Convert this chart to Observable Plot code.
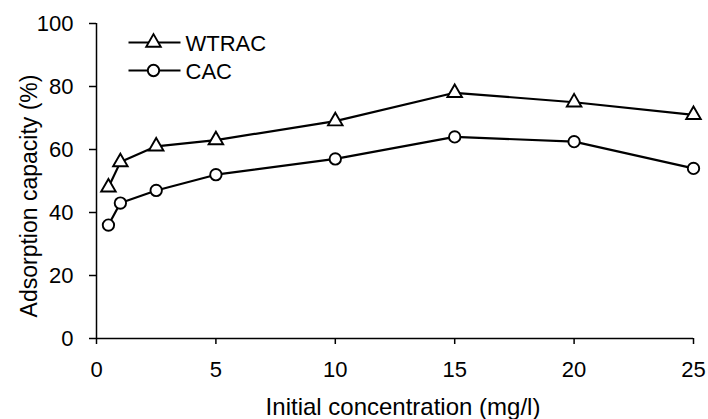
<!DOCTYPE html>
<html><head><meta charset="utf-8">
<script src="https://cdn.jsdelivr.net/npm/d3@7"></script>
<script src="https://cdn.jsdelivr.net/npm/@observablehq/plot@0.6"></script>
<style>
body{margin:0;background:#fff}
svg{font-family: Arial, "Liberation Sans", sans-serif; color:#000}
</style>
</head><body><div id="chart"></div>
<script>
const concentrations = [0.5, 1, 2.5, 5, 10, 15, 20, 25];
const wtrac = [48, 56, 61, 63, 69, 78, 75, 71];
const cac = [36, 43, 47, 52, 57, 64, 62.5, 54];
const seriesNames = ["WTRAC", "CAC"];
const seriesSymbols = ["triangle", "circle"];
const xTicks = [0, 5, 10, 15, 20, 25];
const yTicks = [0, 20, 40, 60, 80, 100];
const xLabel = "Initial concentration (mg/l)";
const yLabel = "Adsorption capacity (%)";

const seriesValues = [wtrac, cac];
const rows = seriesNames.map((s, i) => concentrations.map((c, j) => ({series: s, x: c, y: seriesValues[i][j]})));

const lineSymbol = {draw(ctx, size) { const w = Math.sqrt(size / Math.PI); ctx.moveTo(-w, 0); ctx.lineTo(w, 0); }};

const FS = 22;
const marks = [
  Plot.ruleY([0], {strokeWidth: 1.5}),
  Plot.ruleX([0], {strokeWidth: 1.5}),
  Plot.axisX({ticks: xTicks, tickSize: 6, tickPadding: 17, fontSize: FS, label: null, strokeWidth: 1.5}),
  Plot.axisY({ticks: yTicks, tickSize: 7, tickFormat: () => "", label: null, strokeWidth: 1.5}),
  Plot.text(yTicks, {y: d => d, text: d => String(d), frameAnchor: "left", textAnchor: "end", dx: -23, fontSize: FS}),
  Plot.text([xLabel], {text: d => d, frameAnchor: "bottom", textAnchor: "middle", lineAnchor: "bottom", dy: 76, dx: 8, fontSize: 24}),
  Plot.text([yLabel], {text: d => d, frameAnchor: "left", textAnchor: "middle", lineAnchor: "bottom", rotate: -90, dx: -60, dy: 15, fontSize: 23})
];
rows.forEach((r, i) => {
  marks.push(Plot.line(r, {x: "x", y: "y", stroke: "black", strokeWidth: 2.2}));
  marks.push(Plot.dot(r, {x: "x", y: "y", symbol: seriesSymbols[i], r: i === 0 ? 5.4 : 5.7, fill: "white", stroke: "black", strokeWidth: 1.9}));
  // legend
  marks.push(Plot.dot([seriesNames[i]], {frameAnchor: "top-left", dx: 58, dy: 19 + i * 28, symbol: lineSymbol, r: 26, fill: "none", stroke: "black", strokeWidth: 2.2}));
  marks.push(Plot.dot([seriesNames[i]], {frameAnchor: "top-left", dx: 57, dy: 19 + i * 28, symbol: seriesSymbols[i], r: i === 0 ? 5.4 : 5.7, fill: "white", stroke: "black", strokeWidth: 1.9}));
  marks.push(Plot.text([seriesNames[i]], {text: d => d, frameAnchor: "top-left", dx: 89, dy: 20 + i * 28, textAnchor: "start", lineAnchor: "middle", fontSize: FS}));
});

const chart = Plot.plot({
  width: 708, height: 419,
  marginLeft: 96, marginRight: 15, marginTop: 23, marginBottom: 81,
  style: {background: "white", color: "black", fontFamily: "Arial, 'Liberation Sans', sans-serif"},
  x: {domain: [0, 25]},
  y: {domain: [0, 100]},
  marks
});
document.getElementById("chart").appendChild(chart);
</script>
</body></html>
